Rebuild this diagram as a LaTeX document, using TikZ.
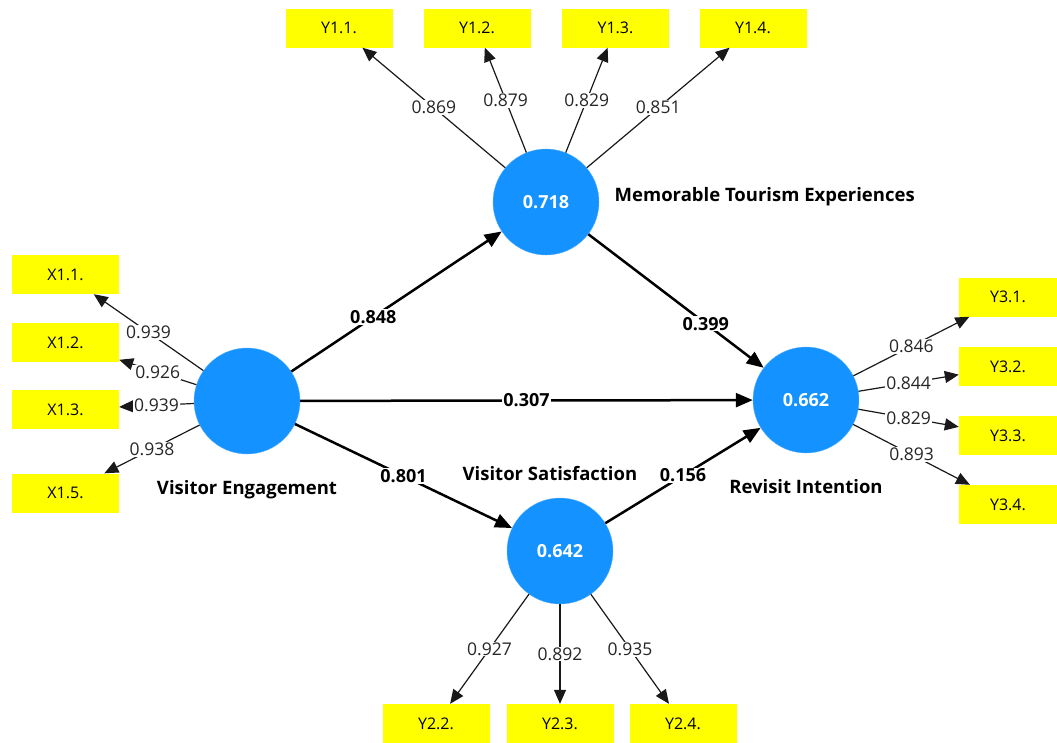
\documentclass[tikz,border=0pt]{standalone}
\usepackage{fontspec}
\setmainfont{Open Sans}
\usetikzlibrary{arrows.meta, positioning}

\definecolor{lvblue}{RGB}{20,146,255}
\definecolor{mvyellow}{RGB}{255,255,0}

\begin{document}
\begin{tikzpicture}[x=1pt, y=-1pt,
    latent/.style={circle, fill=lvblue, draw=lvblue!70, minimum size=106pt, inner sep=0pt,
        text=white, font=\fontsize{18}{20}\selectfont\bfseries},
    indicator/.style={rectangle, fill=mvyellow, minimum width=107pt, minimum height=39pt,
        inner sep=0pt, font=\fontsize{16}{18}\selectfont},
    lvname/.style={font=\fontsize{18.5}{20}\selectfont\bfseries},
    loading/.style={-{Triangle[length=14pt, width=12pt]}, line width=1.2pt, draw=black!90},
    structural/.style={-{Triangle[length=17pt, width=14pt]}, line width=2.5pt},
    lval/.style={fill=white, inner sep=1pt, text=black!85, font=\fontsize{17.5}{20}\selectfont},
    sval/.style={fill=white, inner sep=1pt, font=\fontsize{18}{20}\selectfont\bfseries}]

\useasboundingbox (0,0) rectangle (1057,742);

% 潜变量
\node[latent] (ve)  at (247,401) {};
\node[latent] (mte) at (546,202) {0.718};
\node[latent] (vs)  at (560,551) {0.642};
\node[latent] (ri)  at (806,400) {0.662};

% 潜变量名称
\node[lvname, below=23pt of ve] {Visitor Engagement};
\node[lvname, right=12pt of mte, yshift=5pt] {Memorable Tourism Experiences};
\node[lvname] at (550,474) {Visitor Satisfaction};
\node[lvname, below=23pt of ri] {Revisit Intention};

% 指标
\node[indicator] (x11) at (65.5,274.5) {X1.1.};
\node[indicator] (x12) at (65.5,342.5) {X1.2.};
\node[indicator] (x13) at (65.5,409.5) {X1.3.};
\node[indicator] (x15) at (65.5,493) {X1.5.};

\node[indicator] (y11) at (339,28) {Y1.1.};
\node[indicator] (y12) at (477,28) {Y1.2.};
\node[indicator] (y13) at (615.5,28) {Y1.3.};
\node[indicator] (y14) at (753,28) {Y1.4.};

\node[indicator] (y22) at (436,723.5) {Y2.2.};
\node[indicator] (y23) at (560,723.5) {Y2.3.};
\node[indicator] (y24) at (683,723.5) {Y2.4.};

\node[indicator, minimum width=98pt] (y31) at (1008,297) {Y3.1.};
\node[indicator, minimum width=98pt] (y32) at (1008,366.5) {Y3.2.};
\node[indicator, minimum width=98pt] (y33) at (1008,435.5) {Y3.3.};
\node[indicator, minimum width=98pt] (y34) at (1008,504.5) {Y3.4.};

% 外部载荷
\draw[loading] (ve) -- node[lval] {0.939} (x11);
\draw[loading] (ve) -- node[lval] {0.926} (x12);
\draw[loading] (ve) -- node[lval] {0.939} (x13);
\draw[loading] (ve) -- node[lval] {0.938} (x15);

\draw[loading] (mte) -- node[lval] {0.869} (y11);
\draw[loading] (mte) -- node[lval] {0.879} (y12);
\draw[loading] (mte) -- node[lval] {0.829} (y13);
\draw[loading] (mte) -- node[lval] {0.851} (y14);

\draw[loading] (vs) -- node[lval] {0.927} (y22);
\draw[loading] (vs) -- node[lval] {0.892} (y23);
\draw[loading] (vs) -- node[lval] {0.935} (y24);

\draw[loading] (ri) -- node[lval] {0.846} (y31);
\draw[loading] (ri) -- node[lval] {0.844} (y32);
\draw[loading] (ri) -- node[lval] {0.829} (y33);
\draw[loading] (ri) -- node[lval] {0.893} (y34);

% 路径系数
\draw[structural] (ve) -- node[sval, pos=0.39] {0.848} (mte);
\draw[structural] (ve) -- node[sval] {0.307} (ri);
\draw[structural] (ve) -- node[sval] {0.801} (vs);
\draw[structural] (mte) -- node[sval, pos=0.67] {0.399} (ri);
\draw[structural] (vs) -- node[sval] {0.156} (ri);

\end{tikzpicture}
\end{document}
